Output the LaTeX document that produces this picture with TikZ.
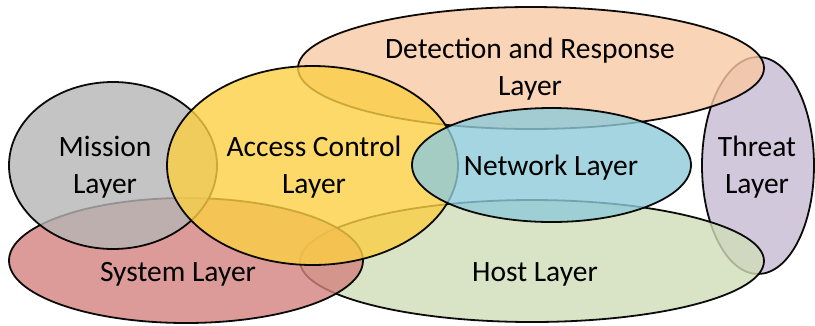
\documentclass[tikz,border=0pt]{standalone}
\usepackage{fontspec}
\setmainfont{Carlito}
\usepackage{tikz}
\usetikzlibrary{shapes.geometric}
\definecolor{lilac}{HTML}{C7BAD3}
\definecolor{peach}{HTML}{F9C9A4}
\definecolor{sage}{HTML}{D0DDB8}
\definecolor{rose}{HTML}{D3827E}
\definecolor{stone}{HTML}{B5B5B5}
\definecolor{gold}{HTML}{FBCF44}
\definecolor{sky}{HTML}{8ECAD9}
\tikzset{layer/.style={ellipse,draw=black,line width=1.8pt,fill opacity=0.8,draw opacity=0.95,inner sep=0pt},
  lbl/.style={align=center,text=black}}

\begin{document}
\begin{tikzpicture}[x=1pt,y=-1pt,font=\fontsize{29.5}{37}\selectfont]
\useasboundingbox (0,0) rectangle (815,325);
% layers, back to front
\node[layer,fill=lilac,minimum width=112pt,minimum height=217pt] (threat) at (758,165.5) {};
\node[layer,fill=peach,minimum width=466pt,minimum height=122pt] (detect) at (531,68) {};
\node[layer,fill=sage,minimum width=464pt,minimum height=122pt] (host) at (532,261) {};
\node[layer,fill=rose,minimum width=354pt,minimum height=125pt] (system) at (186,260.5) {};
\node[layer,fill=stone,minimum width=208pt,minimum height=167pt] (mission) at (113,165.5) {};
\node[layer,fill=gold,minimum width=291pt,minimum height=199pt] (access) at (312.5,165.5) {};
\node[layer,fill=sky,minimum width=279pt,minimum height=114pt] (network) at (551.5,165) {};
% labels
\node[lbl] (tdetect) at (530,69.5) {Detection and Response\\Layer};
\node[lbl] (tthreat) at (757,167.5) {Threat\\Layer};
\node[lbl] (tmission) at (105,167.5) {Mission\\Layer};
\node[lbl] (taccess) at (314,167.5) {Access Control\\Layer};
\node[lbl] (tnetwork) at (551,167.5) {Network Layer};
\node[lbl] (tsystem) at (178,274.5) {System Layer};
\node[lbl] (thost) at (535,274.5) {Host Layer};
\end{tikzpicture}
\end{document}
